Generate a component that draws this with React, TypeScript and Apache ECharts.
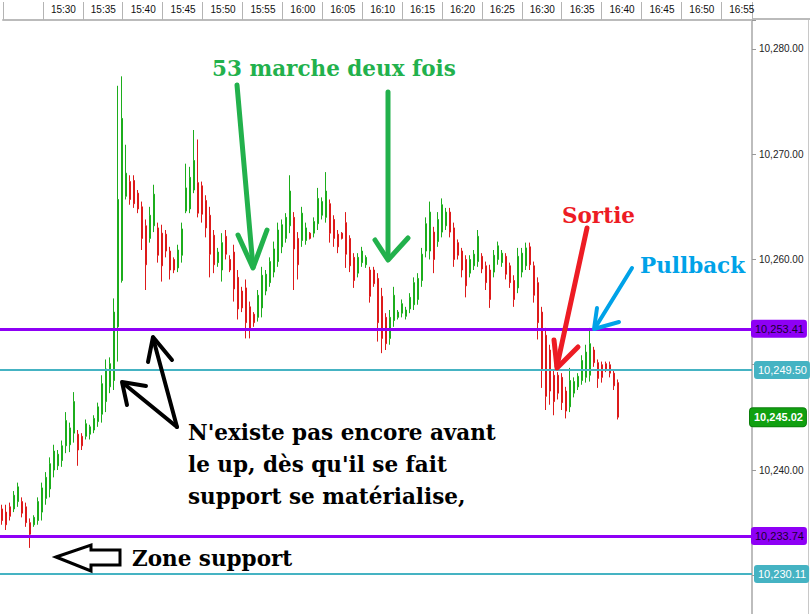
import React, { useEffect, useRef } from 'react';
import * as echarts from 'echarts';

// Candles: open / close / low / high (price points), one every 30 s
const openP = [
  10236.3, 10236.0, 10236.5, 10236.3, 10237.0, 10237.0, 10236.5, 10235.0, 10234.8, 10235.2,
  10236.0, 10237.3, 10238.2, 10240.0, 10240.4, 10240.9, 10242.3, 10242.4, 10243.5, 10243.4,
  10243.2, 10243.2, 10243.4, 10243.8, 10244.6, 10245.3, 10246.5, 10247.9, 10248.5, 10253.6,
  10258.0, 10266.0, 10267.4, 10267.5, 10266.3, 10265.0, 10263.2, 10262.0, 10263.2, 10263.0,
  10262.5, 10262.4, 10260.8, 10260.0, 10259.2, 10260.4, 10264.6, 10264.8, 10266.6, 10267.3,
  10267.0, 10265.6, 10264.2, 10262.3, 10259.7, 10259.0, 10262.2, 10260.0, 10260.7, 10258.3,
  10257.0, 10257.3, 10255.5, 10254.8, 10254.5, 10255.4, 10257.0, 10257.8, 10258.8, 10259.8,
  10261.2, 10262.0, 10263.2, 10264.0, 10262.0, 10261.8, 10261.8, 10262.5, 10262.5, 10263.4,
  10264.2, 10264.0, 10265.3, 10263.8, 10262.4, 10262.5, 10263.5, 10262.0, 10260.2, 10258.7,
  10259.7, 10259.5, 10259.0, 10259.0, 10258.2, 10256.5, 10254.5, 10252.5, 10254.2, 10254.5,
  10254.9, 10254.6, 10255.3, 10255.7, 10256.2, 10258.0, 10260.8, 10260.8, 10262.6, 10261.7,
  10262.6, 10263.2, 10264.5, 10263.0, 10261.6, 10260.8, 10260.0, 10258.7, 10259.4, 10259.8,
  10260.3, 10259.4, 10259.0, 10258.8, 10260.0, 10259.7, 10260.3, 10259.4, 10258.0, 10257.3,
  10258.8, 10259.4, 10261.2, 10259.4, 10257.8, 10255.0, 10252.8, 10251.4, 10249.0, 10249.0,
  10248.8, 10247.5, 10246.0, 10247.3, 10247.9, 10248.5, 10248.8, 10249.0, 10251.4, 10250.2,
  10250.0, 10250.1, 10250.0, 10249.2, 10248.3,
];
const closeP = [
  10235.2, 10234.8, 10235.6, 10237.6, 10238.4, 10235.9, 10235.0, 10233.9, 10235.5, 10237.0,
  10238.3, 10239.3, 10240.6, 10241.8, 10241.5, 10242.3, 10244.7, 10244.0, 10246.5, 10241.9,
  10242.3, 10244.4, 10244.1, 10244.9, 10246.0, 10248.2, 10249.6, 10250.1, 10255.0, 10265.7,
  10273.4, 10268.2, 10265.7, 10265.3, 10264.8, 10262.0, 10259.5, 10264.2, 10266.2, 10260.4,
  10259.4, 10260.8, 10259.0, 10259.0, 10260.9, 10262.9, 10266.8, 10267.8, 10269.4, 10264.4,
  10264.3, 10263.0, 10260.5, 10259.5, 10260.7, 10261.6, 10260.5, 10259.0, 10257.2, 10255.3,
  10255.4, 10254.0, 10253.5, 10254.0, 10256.6, 10258.5, 10258.6, 10259.8, 10261.0, 10262.8,
  10263.3, 10264.0, 10266.5, 10261.0, 10259.5, 10264.4, 10263.0, 10262.0, 10263.6, 10265.8,
  10265.5, 10266.5, 10262.5, 10262.0, 10261.2, 10262.0, 10260.5, 10259.4, 10258.0, 10260.2,
  10260.8, 10260.2, 10256.5, 10257.7, 10254.0, 10252.5, 10252.0, 10254.5, 10256.6, 10255.0,
  10255.8, 10255.2, 10256.4, 10257.8, 10258.2, 10260.5, 10263.4, 10264.5, 10260.0, 10263.8,
  10265.2, 10264.5, 10262.6, 10260.0, 10260.4, 10259.0, 10257.5, 10260.0, 10260.5, 10262.2,
  10259.1, 10257.8, 10256.2, 10260.4, 10261.3, 10260.6, 10258.6, 10257.8, 10256.2, 10260.3,
  10260.6, 10261.1, 10259.5, 10256.6, 10254.0, 10249.5, 10247.0, 10247.5, 10246.5, 10247.3,
  10246.4, 10245.6, 10248.5, 10248.4, 10248.9, 10250.4, 10251.2, 10252.0, 10250.2, 10248.7,
  10248.8, 10249.6, 10249.2, 10248.0, 10245.02,
];
const lowP = [
  10234.8, 10234.3, 10235.2, 10236.0, 10236.5, 10235.5, 10234.6, 10232.6, 10234.6, 10234.8,
  10235.2, 10236.7, 10237.4, 10239.3, 10240.0, 10240.3, 10241.6, 10241.7, 10242.6, 10240.4,
  10241.9, 10242.9, 10242.9, 10243.5, 10244.1, 10244.5, 10245.5, 10247.3, 10247.6, 10250.3,
  10257.8, 10265.7, 10265.2, 10264.9, 10264.4, 10260.9, 10257.1, 10261.6, 10262.6, 10259.7,
  10257.9, 10260.2, 10258.1, 10258.7, 10258.8, 10259.7, 10264.4, 10264.4, 10266.3, 10264.0,
  10263.5, 10262.1, 10258.3, 10258.7, 10259.3, 10257.9, 10260.0, 10258.8, 10256.0, 10254.3,
  10255.0, 10252.5, 10252.5, 10253.6, 10254.1, 10254.5, 10256.6, 10257.4, 10258.3, 10259.3,
  10260.6, 10261.6, 10262.5, 10257.1, 10258.1, 10261.2, 10261.4, 10261.9, 10262.1, 10262.8,
  10263.8, 10263.5, 10261.6, 10261.2, 10260.6, 10261.9, 10259.2, 10258.8, 10257.3, 10258.3,
  10259.3, 10259.2, 10255.9, 10257.4, 10252.2, 10251.1, 10251.4, 10251.9, 10253.6, 10254.3,
  10254.5, 10254.3, 10254.9, 10255.2, 10255.7, 10257.4, 10260.2, 10260.0, 10258.7, 10261.2,
  10262.1, 10262.8, 10262.1, 10259.3, 10260.0, 10258.3, 10256.4, 10258.3, 10259.0, 10259.3,
  10258.7, 10257.1, 10255.4, 10258.3, 10259.5, 10259.3, 10258.1, 10257.3, 10255.5, 10256.8,
  10258.3, 10259.0, 10259.0, 10255.9, 10252.4, 10247.8, 10245.7, 10246.2, 10245.2, 10246.7,
  10245.7, 10244.9, 10245.5, 10246.9, 10247.6, 10248.1, 10248.3, 10248.4, 10249.8, 10247.8,
  10248.3, 10249.3, 10248.8, 10247.6, 10244.8,
];
const highP = [
  10236.7, 10236.7, 10236.9, 10238.0, 10238.8, 10237.4, 10236.9, 10235.4, 10235.7, 10237.4,
  10238.8, 10239.8, 10241.2, 10242.4, 10241.9, 10242.8, 10245.5, 10244.5, 10247.4, 10243.8,
  10243.5, 10244.8, 10244.3, 10245.2, 10246.4, 10249.0, 10250.5, 10250.7, 10256.3, 10276.5,
  10277.4, 10270.9, 10268.0, 10268.0, 10266.6, 10265.5, 10263.8, 10265.0, 10267.1, 10263.5,
  10263.3, 10262.8, 10261.2, 10260.2, 10261.4, 10263.5, 10269.1, 10268.8, 10272.3, 10271.4,
  10267.4, 10266.1, 10265.0, 10262.8, 10261.1, 10262.5, 10262.8, 10260.4, 10261.4, 10259.0,
  10257.4, 10258.1, 10256.0, 10255.0, 10257.1, 10259.3, 10259.0, 10260.2, 10261.7, 10263.5,
  10263.8, 10264.4, 10268.0, 10264.5, 10262.6, 10265.0, 10263.5, 10262.6, 10264.0, 10266.8,
  10265.9, 10268.3, 10265.7, 10264.2, 10262.8, 10262.6, 10264.5, 10262.3, 10260.6, 10260.6,
  10261.2, 10260.4, 10259.3, 10259.3, 10258.7, 10257.3, 10254.9, 10255.2, 10257.4, 10255.2,
  10256.2, 10255.5, 10256.8, 10258.3, 10258.7, 10261.1, 10264.0, 10265.5, 10263.1, 10264.5,
  10265.8, 10264.9, 10264.9, 10263.5, 10261.9, 10261.1, 10260.4, 10260.4, 10260.9, 10262.8,
  10260.6, 10259.8, 10259.5, 10260.9, 10261.7, 10260.9, 10260.6, 10259.7, 10258.5, 10261.1,
  10261.1, 10261.6, 10261.6, 10259.8, 10258.3, 10255.5, 10253.5, 10251.9, 10249.5, 10249.3,
  10249.2, 10247.9, 10249.7, 10248.8, 10249.2, 10250.9, 10251.9, 10253.5, 10251.7, 10250.5,
  10250.3, 10250.3, 10250.3, 10249.5, 10248.6,
];

// Time axis (top) labels, every 5 minutes from 15:30
const timeLabels = [
  '15:30', '15:35', '15:40', '15:45', '15:50', '15:55', '16:00', '16:05', '16:10',
  '16:15', '16:20', '16:25', '16:30', '16:35', '16:40', '16:45', '16:50', '16:55',
];
// Price labels visible on the right axis
const priceTickLabels = [10240, 10260, 10270, 10280];
// Horizontal levels
const purpleLevels = [10253.41, 10233.74];
const tealLevels = [10249.5, 10230.11];

const SLOTS = 188;
const categories = Array.from({ length: SLOTS }, (_, i) => String(i));

const fmt = (v: number) =>
  v.toLocaleString('en-US', { minimumFractionDigits: 2, maximumFractionDigits: 2 });

const GREEN = '#22B14C';
const RED = '#ED1C24';
const BLUE = '#00A2E8';
const BLACK = '#000000';
const PURPLE = '#8E00F5';
const TEAL = '#45B3C3';

const seg = (points: number[][], color: string, w: number) => ({
  type: 'polyline',
  shape: { points },
  style: { stroke: color, lineWidth: w, fill: null, lineCap: 'round', lineJoin: 'round' },
  silent: true,
  z: 100,
});

const note = (text: string, x: number, y: number, color: string) => ({
  type: 'text',
  x,
  y,
  style: {
    text,
    fill: color,
    fontFamily: 'DejaVu Serif',
    fontWeight: 'bold',
    fontSize: 21.5,
    align: 'left',
    verticalAlign: 'middle',
  },
  silent: true,
  z: 100,
});

export default function App() {
  const ref = useRef<HTMLDivElement>(null);

  useEffect(() => {
    if (!ref.current) return;
    const chart = echarts.init(ref.current, null, { renderer: 'svg' });
    const data = openP.map((o, i) => [o, closeP[i], lowP[i], highP[i]]);
    const lastPrice = closeP[closeP.length - 1];

    const levelLabel = (bg: string, fg: string, dist: number, bold = false) => ({
      show: true,
      position: 'end',
      distance: dist,
      backgroundColor: bg,
      color: fg,
      borderRadius: 3,
      padding: [4, 3, 3, 4],
      fontSize: 11,
      fontWeight: bold ? 'bold' : 'normal',
      fontFamily: 'Liberation Sans',
    });

    const option: any = {
      animation: false,
      backgroundColor: '#ffffff',
      grid: [
        { left: -10.63, right: 58, top: 19, height: 1 },
        { left: 0, right: 58, top: 20, bottom: 0 },
      ],
      xAxis: [
        {
          gridIndex: 0,
          type: 'value',
          position: 'top',
          min: 925,
          max: 1018.85,
          interval: 5,
          axisLine: { show: true, lineStyle: { color: '#BBBBBB', width: 2 } },
          axisTick: { show: true, length: 18, lineStyle: { color: '#B4B4B4', width: 1 } },
          axisLabel: {
            show: true,
            align: 'left',
            padding: [0, 0, 0, 8],
            margin: 5,
            fontSize: 10,
            fontFamily: 'Liberation Sans',
            color: '#111111',
            showMinLabel: true,
            showMaxLabel: true,
            formatter: (v: number) => {
              const k = (v - 930) / 5;
              return Number.isInteger(k) && timeLabels[k] ? timeLabels[k] : '';
            },
          },
          splitLine: { show: false },
        },
        {
          gridIndex: 1,
          type: 'category',
          data: categories,
          boundaryGap: true,
          show: false,
        },
      ],
      yAxis: [
        { gridIndex: 0, type: 'value', show: false },
        {
          gridIndex: 1,
          type: 'value',
          position: 'right',
          min: 10226.32,
          max: 10282.75,
          axisLine: { show: true, lineStyle: { color: '#BDBDBD', width: 2 } },
          axisTick: { show: true, length: 4, lineStyle: { color: '#999999' } },
          axisLabel: {
            margin: 7,
            fontSize: 10,
            fontFamily: 'Liberation Sans',
            color: '#222222',
            formatter: (v: number) =>
              priceTickLabels.some((p) => Math.abs(p - v) < 1e-6) ? fmt(v) : '',
          },
          splitLine: { show: false },
        },
      ],
      series: [
        {
          type: 'candlestick',
          xAxisIndex: 1,
          yAxisIndex: 1,
          data,
          barWidth: 2,
          itemStyle: {
            color: '#1CAD1C',
            color0: '#DD1A1A',
            borderColor: '#1CAD1C',
            borderColor0: '#DD1A1A',
            borderWidth: 1,
          },
          markLine: {
            silent: true,
            symbol: ['none', 'none'],
            animation: false,
            data: [
              ...tealLevels.map((v) => ({
                yAxis: v,
                lineStyle: { color: TEAL, width: 2, type: 'solid' },
                label: { ...levelLabel(TEAL, '#ffffff', 2), formatter: fmt(v) },
              })),
              ...purpleLevels.map((v) => ({
                yAxis: v,
                lineStyle: { color: PURPLE, width: 3, type: 'solid' },
                label: { ...levelLabel(PURPLE, '#1a0033', -1), formatter: fmt(v) },
              })),
              {
                yAxis: lastPrice,
                lineStyle: { color: 'rgba(255,255,255,0)', width: 1, type: 'solid' },
                label: {
                  ...levelLabel('#10A010', '#ffffff', -2, true),
                  borderColor: '#0B7F0B',
                  borderWidth: 1,
                  formatter: fmt(lastPrice),
                },
              },
            ],
          },
        },
      ],
      graphic: [
        // frame pieces
        { type: 'line', shape: { x1: 752, y1: 19, x2: 810, y2: 19 }, style: { stroke: '#BBBBBB', lineWidth: 2 }, silent: true },
        { type: 'line', shape: { x1: 808.5, y1: 20, x2: 808.5, y2: 614 }, style: { stroke: '#C8C8C8', lineWidth: 1 }, silent: true },
        // annotations
        note('53 marche deux fois', 212, 68, GREEN),
        seg([[237, 85], [253, 267]], GREEN, 5),
        seg([[238, 235], [253, 268], [267, 230]], GREEN, 5),
        seg([[388, 92], [388, 258]], GREEN, 5),
        seg([[375, 240], [388, 260], [408, 238]], GREEN, 5),
        note('Sortie', 562, 215, RED),
        seg([[587, 228], [557, 366]], RED, 5),
        seg([[554, 340], [557, 368], [578, 347]], RED, 5),
        note('Pullback', 640, 265, BLUE),
        seg([[632, 268], [595, 328]], BLUE, 4),
        seg([[597, 308], [594, 329], [619, 322]], BLUE, 4),
        seg([[177, 427], [153, 338]], BLACK, 4),
        seg([[148, 362], [153, 337], [172, 360]], BLACK, 4),
        seg([[177, 427], [123, 383]], BLACK, 4),
        seg([[127, 405], [122, 382], [146, 386]], BLACK, 4),
        note("N'existe pas encore avant", 188, 432, BLACK),
        note("le up, dès qu'il se fait", 188, 464, BLACK),
        note('support se matérialise,', 188, 496, BLACK),
        {
          type: 'polygon',
          shape: { points: [[56, 557], [91, 545], [91, 550], [120, 550], [120, 565], [91, 565], [91, 571]] },
          style: { stroke: BLACK, lineWidth: 3, fill: '#ffffff', lineJoin: 'miter' },
          silent: true,
          z: 100,
        },
        note('Zone support', 132, 558, BLACK),
      ],
    };

    chart.setOption(option);
    return () => chart.dispose();
  }, []);

  return (
    <div
      ref={ref}
      style={{ position: 'absolute', left: 0, top: 0, width: 810, height: 614, background: '#fff' }}
    />
  );
}
